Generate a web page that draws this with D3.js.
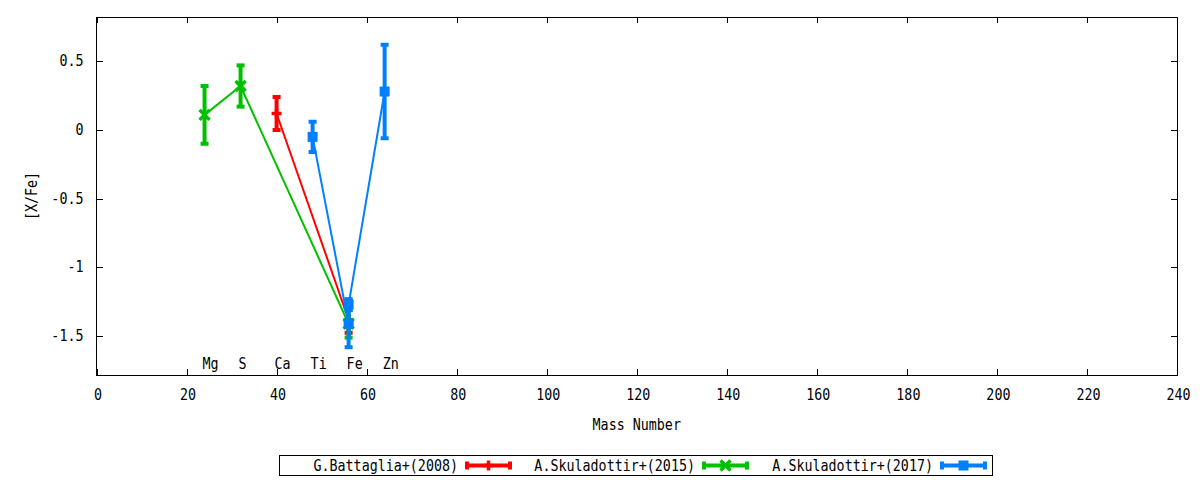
<!DOCTYPE html>
<html>
<head>
<meta charset="utf-8">
<script src="https://cdn.jsdelivr.net/npm/d3@7"></script>
<style>
html, body { margin: 0; padding: 0; background: #fff; }
svg { display: block; }
text { font-family: "DejaVu Sans Mono", "Liberation Mono", monospace; fill: #000; }
</style>
</head>
<body>
<script>
// ---- data ----
const xTickValues = [0, 20, 40, 60, 80, 100, 120, 140, 160, 180, 200, 220, 240];
const yTickValues = [0.5, 0, -0.5, -1, -1.5];
const yTickLabels = ["0.5", "0", "-0.5", "-1", "-1.5"];

const elementNames = ["Mg", "S", "Ca", "Ti", "Fe", "Zn"];
const elementMass  = [24, 32, 40, 48, 56, 64];

const battagliaMass = [40, 56];
const battagliaVal  = [0.12, -1.38];
const battagliaErr  = [0.12, 0.095];

const skul15Mass = [24, 32, 56];
const skul15Val  = [0.11, 0.32, -1.41];
const skul15Err  = [0.21, 0.15, 0.10];

const skul17Mass = [48, 56, 56, 64];
const skul17Val  = [-0.05, -1.41, -1.27, 0.28];
const skul17Err  = [0.11, 0.17, 0.04, 0.34];

const seriesNames = ["G.Battaglia+(2008)", "A.Skuladottir+(2015)", "A.Skuladottir+(2017)"];
const seriesColors = ["#ff0000", "#00c000", "#0080ff"];
const seriesMarkers = ["plus", "cross", "square"];

// ---- layout ----
const W = 1200, H = 480;
const pLeft = 96.5, pRight = 1177, pTop = 17, pBottom = 375;
const FS = 15, SX = 0.89;

const svg = d3.select("body").append("svg").attr("width", W).attr("height", H);

const x = d3.scaleLinear().domain([0, 240]).range([pLeft, pRight]);
const y = d3.scaleLinear().domain([-1.782, 0.822]).range([pBottom, pTop]);

function label(g, px, py, str, anchor, rot) {
  const t = g.append("g").attr("transform", `translate(${px},${py})` + (rot ? ` rotate(${rot})` : "") + ` scale(${SX},1)`);
  t.append("text").attr("text-anchor", anchor || "start").attr("font-size", FS).text(str);
  return t;
}

// axes (ticks inward, mirrored)
const tickLen = 6;
const axes = svg.append("g").attr("stroke", "#000").attr("stroke-width", 1).attr("shape-rendering", "crispEdges");
xTickValues.forEach(v => {
  const px = Math.round(x(v)) + 0.5;
  axes.append("line").attr("x1", px).attr("x2", px).attr("y1", pBottom).attr("y2", pBottom - tickLen);
  axes.append("line").attr("x1", px).attr("x2", px).attr("y1", pTop).attr("y2", pTop + tickLen);
});
yTickValues.forEach(v => {
  const py = Math.round(y(v)) + 0.5;
  axes.append("line").attr("x1", pLeft).attr("x2", pLeft + tickLen).attr("y1", py).attr("y2", py);
  axes.append("line").attr("x1", pRight).attr("x2", pRight - tickLen).attr("y1", py).attr("y2", py);
});
axes.append("rect").attr("x", pLeft).attr("y", pTop).attr("width", pRight - pLeft).attr("height", pBottom - pTop).attr("fill", "none");

const lab = svg.append("g");
xTickValues.forEach(v => label(lab, x(v) + 1.5, pBottom + 25, String(v), "middle"));
yTickValues.forEach((v, i) => label(lab, pLeft - 13, y(v) + 5, yTickLabels[i], "end"));
label(lab, (pLeft + pRight) / 2, 430, "Mass Number", "middle");
label(lab, 37, (pTop + pBottom) / 2, "[X/Fe]", "middle", -90);

// element labels
elementNames.forEach((n, i) => label(lab, x(elementMass[i]) - 2, y(-1.7) + 5, n, "start"));

// ---- series ----
const series = [
  { mass: battagliaMass, val: battagliaVal, err: battagliaErr },
  { mass: skul15Mass, val: skul15Val, err: skul15Err },
  { mass: skul17Mass, val: skul17Val, err: skul17Err }
];

function marker(g, cx, cy, type, color) {
  if (type === "plus") {
    g.append("line").attr("x1", cx - 5).attr("x2", cx + 5).attr("y1", cy).attr("y2", cy).attr("stroke", color).attr("stroke-width", 3.5);
    g.append("line").attr("x1", cx).attr("x2", cx).attr("y1", cy - 5).attr("y2", cy + 5).attr("stroke", color).attr("stroke-width", 3.5);
  } else if (type === "cross") {
    g.append("line").attr("x1", cx - 5).attr("x2", cx + 5).attr("y1", cy - 5).attr("y2", cy + 5).attr("stroke", color).attr("stroke-width", 3.5);
    g.append("line").attr("x1", cx - 5).attr("x2", cx + 5).attr("y1", cy + 5).attr("y2", cy - 5).attr("stroke", color).attr("stroke-width", 3.5);
  } else {
    g.append("rect").attr("x", cx - 5).attr("y", cy - 5).attr("width", 10).attr("height", 10).attr("fill", color);
  }
}

const plot = svg.append("g");
const lineGen = d3.line().x(d => x(d[0])).y(d => y(d[1]));
series.forEach((s, si) => {
  const color = seriesColors[si];
  const pts = s.mass.map((m, i) => [m, s.val[i], s.err[i]]);
  const g = plot.append("g");
  g.append("path").attr("d", lineGen(pts)).attr("fill", "none").attr("stroke", color).attr("stroke-width", 2);
  pts.forEach(p => {
    const cx = x(p[0]);
    g.append("line").attr("x1", cx).attr("x2", cx).attr("y1", y(p[1] + p[2])).attr("y2", y(p[1] - p[2]))
      .attr("stroke", color).attr("stroke-width", 4);
    [p[1] + p[2], p[1] - p[2]].forEach(v => {
      g.append("line").attr("x1", cx - 4).attr("x2", cx + 4).attr("y1", y(v)).attr("y2", y(v))
        .attr("stroke", color).attr("stroke-width", 4);
    });
    marker(g, cx, y(p[1]), seriesMarkers[si], color);
  });
});

// ---- legend ----
const leg = svg.append("g");
leg.append("rect").attr("x", 279.5).attr("y", 455.5).attr("width", 713).attr("height", 20)
  .attr("fill", "none").attr("stroke", "#000").attr("stroke-width", 1).attr("shape-rendering", "crispEdges");
const legTextRight = [458, 695, 933];
seriesNames.forEach((n, i) => {
  const ly = 465.5;
  label(leg, legTextRight[i], ly + 5, n, "end");
  const x0 = legTextRight[i] + 9, x1 = legTextRight[i] + 52, color = seriesColors[i];
  leg.append("line").attr("x1", x0).attr("x2", x1).attr("y1", ly).attr("y2", ly).attr("stroke", color).attr("stroke-width", 4);
  [x0, x1].forEach(xx => leg.append("line").attr("x1", xx).attr("x2", xx).attr("y1", ly - 4).attr("y2", ly + 4).attr("stroke", color).attr("stroke-width", 4));
  marker(leg, (x0 + x1) / 2, ly, seriesMarkers[i], color);
});
</script>
</body>
</html>
